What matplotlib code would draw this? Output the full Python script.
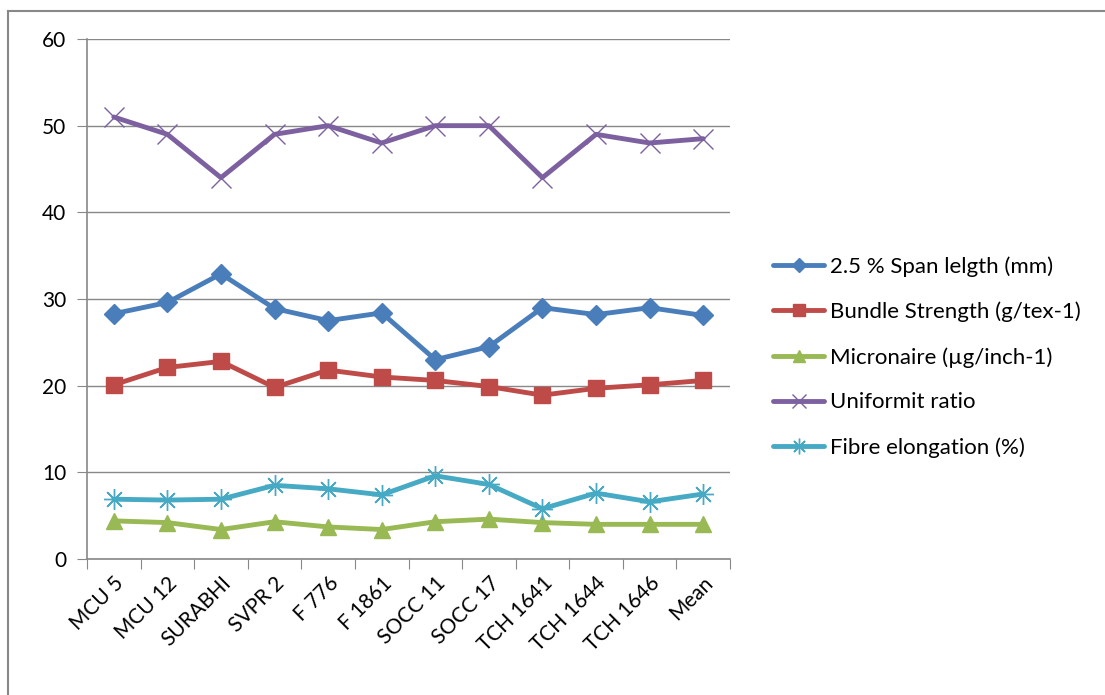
import matplotlib
matplotlib.use("Agg")
import matplotlib.pyplot as plt
from matplotlib.lines import Line2D

categories = ["MCU 5", "MCU 12", "SURABHI", "SVPR 2", "F 776", "F 1861",
              "SOCC 11", "SOCC 17", "TCH 1641", "TCH 1644", "TCH 1646", "Mean"]
span_length = [28.3, 29.6, 32.9, 28.9, 27.5, 28.4, 23.0, 24.5, 29.0, 28.2, 29.0, 28.1]
bundle_strength = [20.1, 22.1, 22.8, 19.8, 21.8, 21.0, 20.6, 19.9, 18.9, 19.7, 20.1, 20.6]
micronaire = [4.4, 4.2, 3.4, 4.3, 3.7, 3.4, 4.3, 4.6, 4.2, 4.0, 4.0, 4.0]
uniformity = [51.0, 49.0, 44.0, 49.0, 50.0, 48.0, 50.0, 50.0, 44.0, 49.0, 48.0, 48.5]
elongation = [6.9, 6.8, 6.9, 8.5, 8.1, 7.4, 9.6, 8.6, 5.8, 7.6, 6.6, 7.5]
yticks = [0, 10, 20, 30, 40, 50, 60]

plt.rcParams['font.family'] = ['Lato', 'DejaVu Sans']

fig = plt.figure(figsize=(11.05, 6.95), dpi=100)
ax = fig.add_axes([87/1105, 1-559/695, (730-87)/1105, (559-39)/695])

x = list(range(len(categories)))
series = [
    (span_length, "2.5 % Span lelgth (mm)", "#4A7EBB", "D", 10, None),
    (bundle_strength, "Bundle Strength (g/tex-1)", "#BE4B48", "s", 12, None),
    (micronaire, "Micronaire (\u00b5g/inch-1)", "#98B954", "^", 12, None),
    (uniformity, "Uniformit ratio", "#7D60A0", "x", 14, 1.0),
    (elongation, "Fibre elongation (%)", "#46AAC5", (8, 2, 0), 15, 1.0),
]
handles = []
for vals, lab, col, mk, ms, mew in series:
    kw = dict(color=col, lw=3.5, marker=mk, markersize=ms, label=lab, solid_capstyle='round')
    if mew is not None:
        kw.update(markeredgewidth=mew, markeredgecolor=col)
    else:
        kw.update(markeredgecolor=col, markerfacecolor=col)
    ln, = ax.plot(x, vals, **kw)
    handles.append(ln)

ax.set_xlim(-0.5, len(categories) - 0.5)
ax.set_ylim(0, 60)
ax.set_yticks(yticks)
ax.set_xticks([i - 0.5 for i in range(len(categories) + 1)], minor=False)
ax.set_xticklabels([])
ax.set_xticks(x, minor=True)
ax.set_xticklabels(categories, minor=True, rotation=45, ha='right', va='top',
                   rotation_mode='anchor', fontsize=15)
ax.tick_params(axis='x', which='minor', length=0, pad=10)
ax.tick_params(axis='x', which='major', length=7, color='#888888', direction='out')
ax.tick_params(axis='y', length=7, color='#888888', labelsize=15, pad=8)
ax.grid(axis='y', color='#888888', lw=1.0)
ax.set_axisbelow(True)
for s in ['top', 'right']:
    ax.spines[s].set_visible(False)
for s in ['left', 'bottom']:
    ax.spines[s].set_color('#888888')
    ax.spines[s].set_linewidth(1.2)

leg = fig.legend(handles=handles, loc='upper left', bbox_to_anchor=(753/1105, 1-236/695),
                 frameon=False, fontsize=16, labelspacing=1.12, handlelength=2.3,
                 handletextpad=0.25, markerscale=0.75)

# outer chart border
fig.add_artist(Line2D([8/1105, 8/1105], [0, 1-11/695], transform=fig.transFigure,
                      color='#888888', lw=1.5))
fig.add_artist(Line2D([8/1105, 1], [1-11/695, 1-11/695], transform=fig.transFigure,
                      color='#888888', lw=1.5))

fig.savefig("out.png", dpi=100)
